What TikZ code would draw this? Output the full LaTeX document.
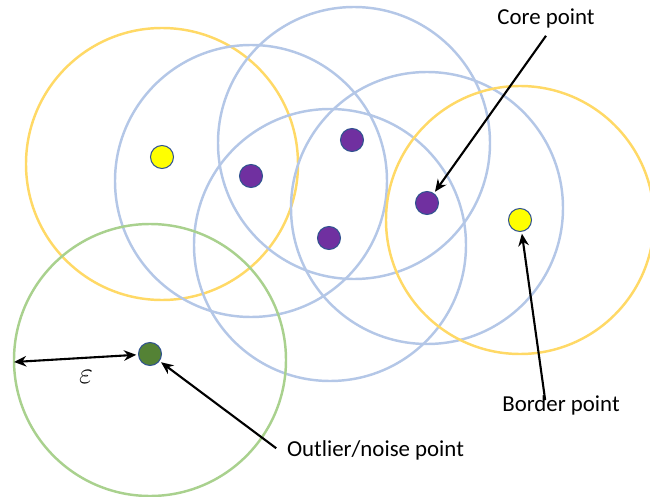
\documentclass[tikz,border=0pt]{standalone}
\usepackage{fontspec}
\setmainfont{Carlito}
\usepackage{xcolor}
\definecolor{vizRing}{HTML}{B4C7E7}
\definecolor{vizBorder}{HTML}{FFD966}
\definecolor{vizNoise}{HTML}{A9D18E}
\definecolor{vizCore}{HTML}{7030A0}
\definecolor{vizYellow}{HTML}{FFFF00}
\definecolor{vizGreen}{HTML}{548235}
\definecolor{vizEdge}{HTML}{2F528F}
\usetikzlibrary{arrows.meta}

\tikzset{
  dot/.style={circle, draw=vizEdge, line width=0.6pt, minimum size=0.46cm, inner sep=0pt},
  ring/.style={line width=1.4pt},
  tag/.style={font=\fontsize{13}{15}\selectfont, inner sep=1pt},
  pointer/.style={-{Stealth[length=7pt,width=6pt]}, line width=1.2pt, shorten >=1pt}
}

\begin{document}
\begin{tikzpicture}[x=0.02cm, y=-0.02cm]
  \useasboundingbox (0,0) rectangle (650,497);
  % neighbourhoods
  \draw[ring, draw=vizBorder] (162,164) circle (136);
  \draw[ring, draw=vizRing] (251,181) circle (136);
  \draw[ring, draw=vizRing] (354,143) circle (136);
  \draw[ring, draw=vizRing] (330,245) circle (136);
  \draw[ring, draw=vizRing] (427,208) circle (136);
  \draw[ring, draw=vizBorder] (520,220) circle (134);
  \draw[ring, draw=vizNoise] (150,360) circle (136);
  % points
  \node[dot, fill=vizYellow] (b1) at (162,157) {};
  \node[dot, fill=vizCore] (c1) at (251,176) {};
  \node[dot, fill=vizCore] (c2) at (352,140) {};
  \node[dot, fill=vizCore] (c3) at (329,238) {};
  \node[dot, fill=vizCore] (c4) at (427,203) {};
  \node[dot, fill=vizYellow] (b2) at (520,220) {};
  \node[dot, fill=vizGreen] (n1) at (150,354) {};
  % labels
  \node[tag] (coreTag) at (546,18) {Core point};
  \node[tag] (borderTag) at (561,405) {Border point};
  \node[tag, anchor=west] (noiseTag) at (285,450) {Outlier/noise point};
  \node[font=\fontsize{17}{19}\selectfont] (epsTag) at (86,377) {$\varepsilon$};
  \coordinate (rim) at (14,362);
  % arrows
  \draw[pointer] (coreTag.south) ++(0,6) -- (c4);
  \draw[pointer] ([xshift=-9pt,yshift=-4pt]borderTag.north) -- (b2);
  \draw[pointer] ([xshift=-5pt,yshift=1pt]noiseTag.west) -- (n1);
  \draw[pointer, {Stealth[length=7pt,width=6pt]}-{Stealth[length=7pt,width=6pt]}] (rim) -- (n1);
\end{tikzpicture}
\end{document}
